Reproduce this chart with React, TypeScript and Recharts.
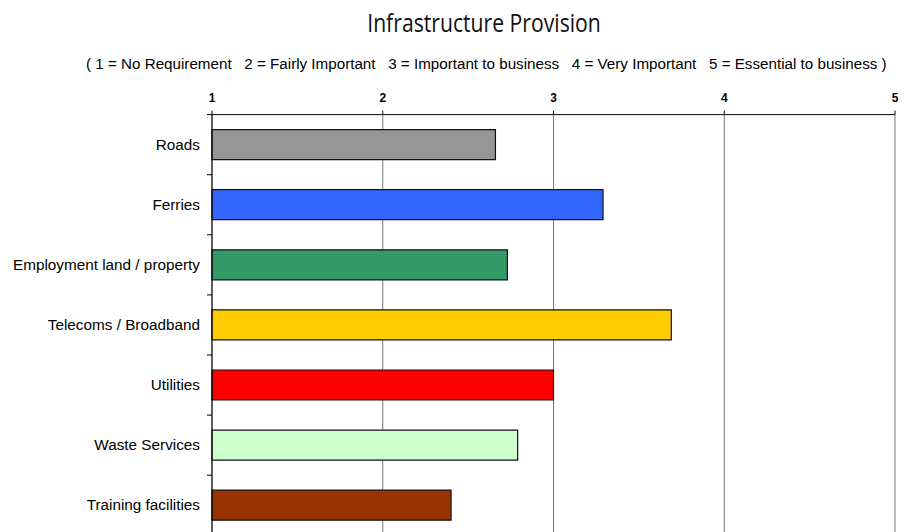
import { Bar, BarChart, CartesianGrid, Cell, XAxis, YAxis } from "recharts";

const categories = [
  "Roads",
  "Ferries",
  "Employment land / property",
  "Telecoms / Broadband",
  "Utilities",
  "Waste Services",
  "Training facilities",
];
const scores = [2.66, 3.29, 2.73, 3.69, 3.0, 2.79, 2.4];
const barColors = ["#969696", "#3366ff", "#339966", "#ffcc00", "#ff0000", "#ccffcc", "#993300"];
const scaleTicks = [1, 2, 3, 4, 5];

const data = categories.map((name, i) => ({ name, score: scores[i] }));

const W = 912;
const H = 540;
const PLOT_TOP = 114.6;
const PLOT_BOTTOM = 535.3;
const BAND = (PLOT_BOTTOM - PLOT_TOP) / categories.length;

const labelFont = "'Liberation Sans', Arial, sans-serif";

// category label plus a small tick at the band boundary above it
function CategoryTick(props: any) {
  const { x, y, payload, index } = props;
  const last = index === categories.length - 1;
  return (
    <g>
      <line x1={x - 5} x2={x} y1={y - BAND / 2} y2={y - BAND / 2} stroke="#000" />
      {last && <line x1={x - 5} x2={x} y1={y + BAND / 2} y2={y + BAND / 2} stroke="#000" />}
      <text x={x - 12} y={y} dy={5} textAnchor="end" fontSize={15.3} fill="#000" fontFamily={labelFont}>
        {payload.value}
      </text>
    </g>
  );
}

export default function App() {
  return (
    <div style={{ position: "fixed", left: 0, top: 0, width: W, height: 532, overflow: "hidden", background: "#fff" }}>
      <div
        style={{
          position: "absolute",
          top: 5,
          left: 484,
          transform: "translateX(-50%) scaleX(0.83)",
          fontFamily: "'Open Sans', sans-serif",
          fontSize: 25.5,
          color: "#111",
          whiteSpace: "nowrap",
        }}
      >
        Infrastructure Provision
      </div>
      <div
        style={{
          position: "absolute",
          top: 55,
          left: 86,
          fontFamily: labelFont,
          fontSize: 15.2,
          color: "#000",
          whiteSpace: "pre",
        }}
      >
        {"( 1 = No Requirement   2 = Fairly Important   3 = Important to business   4 = Very Important   5 = Essential to business )"}
      </div>
      <BarChart
        width={W}
        height={H}
        data={data}
        layout="vertical"
        margin={{ top: 0, right: 17, bottom: H - PLOT_BOTTOM, left: 0 }}
        barSize={30}
      >
        <CartesianGrid horizontal={false} stroke="#777" />
        <XAxis
          type="number"
          orientation="top"
          domain={[1, 5]}
          ticks={scaleTicks}
          height={PLOT_TOP}
          axisLine={{ stroke: "#000" }}
          tickLine={{ stroke: "#000" }}
          tickSize={4}
          tickMargin={9}
          tick={{ fontSize: 12, fontWeight: "bold", fill: "#000", fontFamily: labelFont }}
        />
        <YAxis
          type="category"
          dataKey="name"
          width={212}
          axisLine={{ stroke: "#000" }}
          tickLine={false}
          tickSize={0}
          tickMargin={0}
          interval={0}
          tick={<CategoryTick />}
        />
        <Bar dataKey="score" stroke="#111" strokeWidth={1.2} isAnimationActive={false}>
          {data.map((d, i) => (
            <Cell key={d.name} fill={barColors[i]} />
          ))}
        </Bar>
      </BarChart>
    </div>
  );
}
